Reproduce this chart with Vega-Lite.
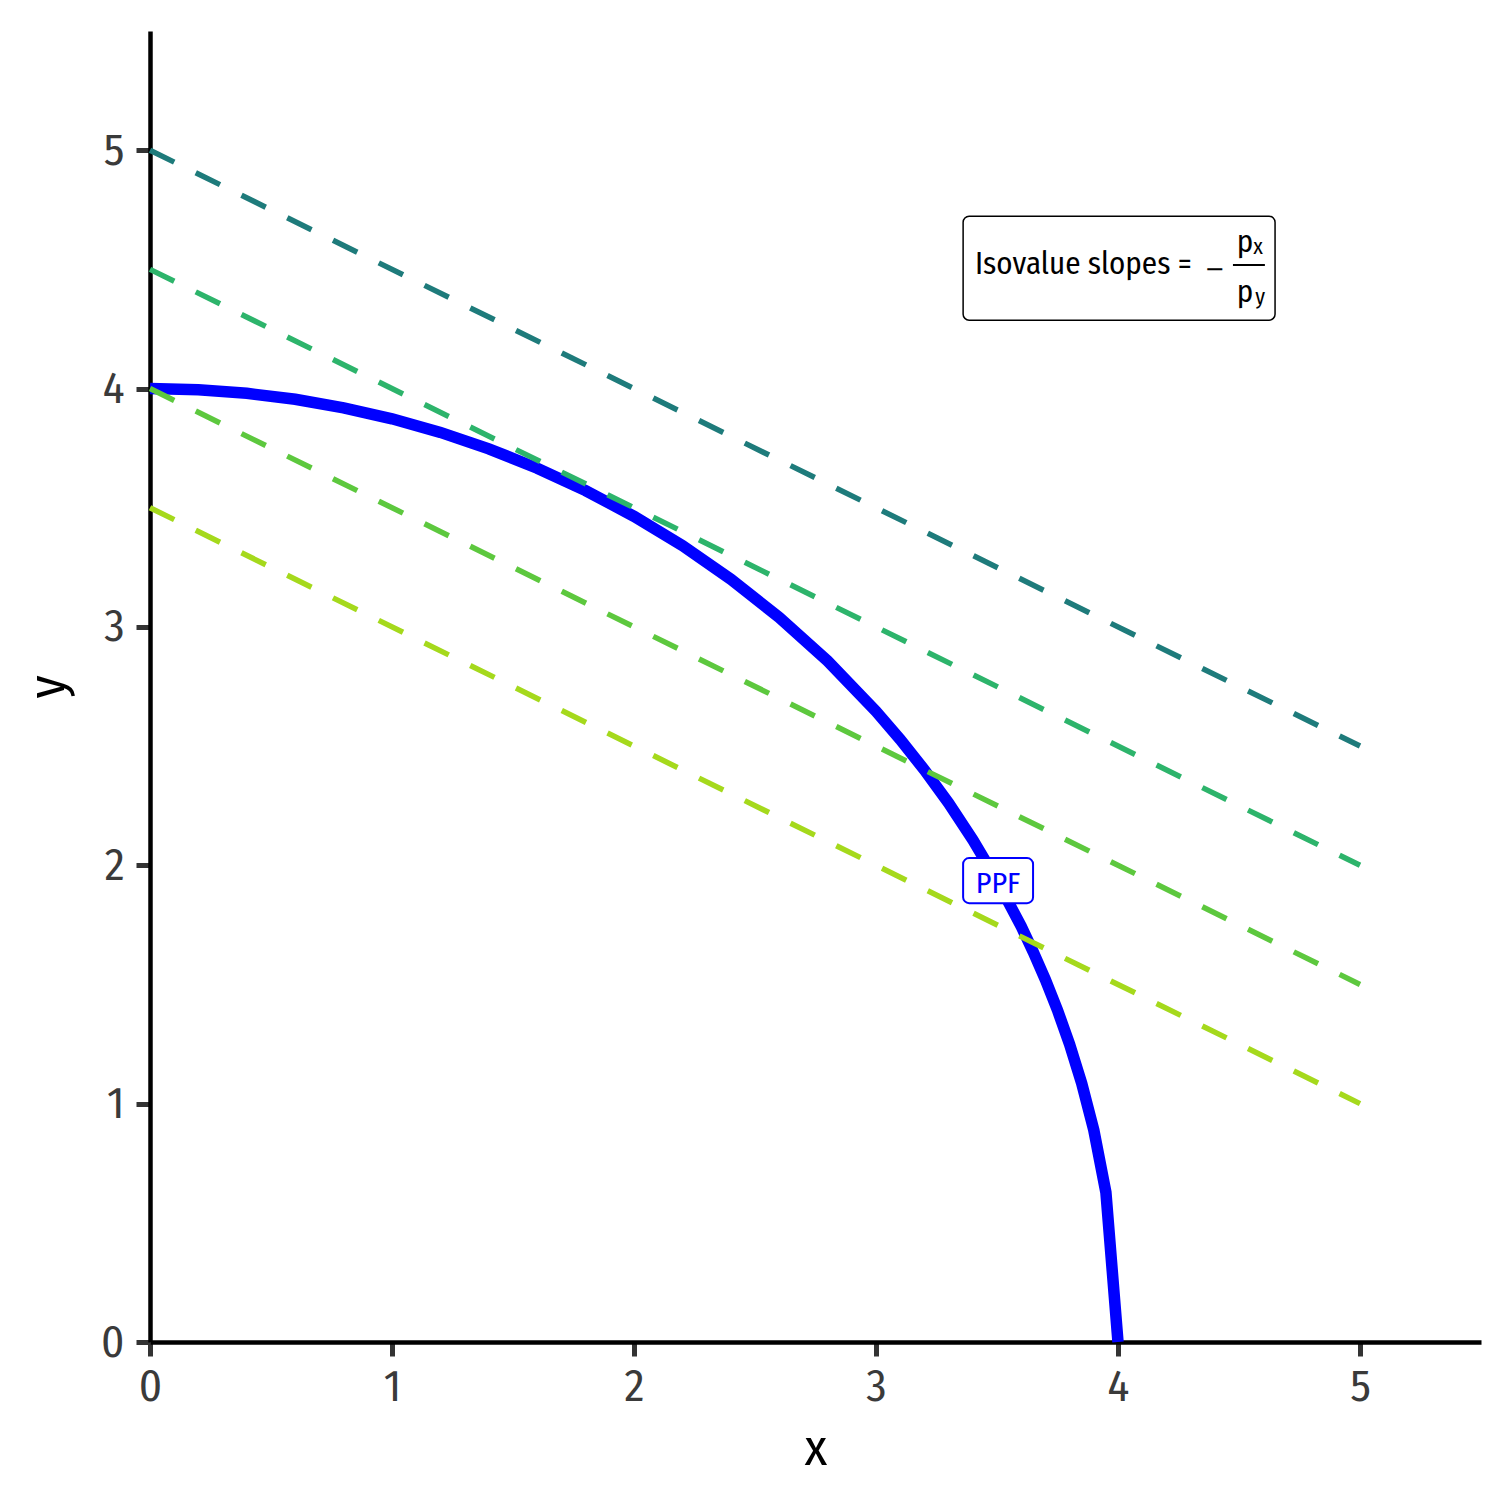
{
  "$schema": "https://vega.github.io/schema/vega-lite/v6.json",
  "width": 1331,
  "height": 1311,
  "autosize": {"type": "none"},
  "padding": {"left": 150, "top": 31, "right": 31, "bottom": 170},
  "background": "white",
  "config": {
    "view": {"stroke": null},
    "font": "Fira Sans Condensed, Liberation Sans Narrow, Roboto, sans-serif",
    "axis": {
      "grid": false,
      "labelFlush": false,
      "domainColor": "black",
      "domainWidth": 4.5,
      "tickColor": "#333333",
      "tickWidth": 5,
      "tickSize": 14,
      "labelFontSize": 45,
      "labelColor": "#3a3a3a",
      "labelFont": "Fira Sans Condensed, Liberation Sans Narrow, Roboto, sans-serif",
      "titleFont": "Fira Sans Condensed, Liberation Sans Narrow, Roboto, sans-serif",
      "titleFontSize": 52,
      "titleFontWeight": "normal",
      "titleColor": "black"
    }
  },
  "layer": [
    {
      "data": {"values": [
        {"x": 0, "y": 4}, {"x": 0.2, "y": 3.995}, {"x": 0.4, "y": 3.98}, {"x": 0.6, "y": 3.955},
        {"x": 0.8, "y": 3.919}, {"x": 1.0, "y": 3.873}, {"x": 1.2, "y": 3.816}, {"x": 1.4, "y": 3.747},
        {"x": 1.6, "y": 3.666}, {"x": 1.8, "y": 3.572}, {"x": 2.0, "y": 3.464}, {"x": 2.2, "y": 3.341},
        {"x": 2.4, "y": 3.2}, {"x": 2.6, "y": 3.04}, {"x": 2.8, "y": 2.857}, {"x": 3.0, "y": 2.646},
        {"x": 3.1, "y": 2.528}, {"x": 3.2, "y": 2.4}, {"x": 3.3, "y": 2.261}, {"x": 3.4, "y": 2.107},
        {"x": 3.5, "y": 1.936}, {"x": 3.6, "y": 1.744}, {"x": 3.65, "y": 1.636}, {"x": 3.7, "y": 1.52},
        {"x": 3.75, "y": 1.392}, {"x": 3.8, "y": 1.249}, {"x": 3.85, "y": 1.085}, {"x": 3.9, "y": 0.889},
        {"x": 3.95, "y": 0.628}, {"x": 4.0, "y": 0}
      ]},
      "mark": {"type": "line", "color": "#0000ff", "strokeWidth": 11.5, "strokeCap": "butt", "strokeJoin": "miter"},
      "encoding": {
        "x": {"field": "x", "type": "quantitative", "scale": {"domain": [0, 5.5], "nice": false},
              "axis": {"values": [0, 1, 2, 3, 4, 5], "format": "d", "title": "x", "labelPadding": 8, "titlePadding": 14}},
        "y": {"field": "y", "type": "quantitative", "scale": {"domain": [0, 5.5], "nice": false},
              "axis": {"values": [0, 1, 2, 3, 4, 5], "format": "d", "title": "y", "labelPadding": 12, "titlePadding": 26}},
        "order": {"field": "x", "type": "quantitative"}
      }
    },
    {
      "data": {"values": [
        {"line": "a", "x": 0, "y": 5}, {"line": "a", "x": 5, "y": 2.5},
        {"line": "b", "x": 0, "y": 4.5}, {"line": "b", "x": 5, "y": 2},
        {"line": "c", "x": 0, "y": 4}, {"line": "c", "x": 5, "y": 1.5},
        {"line": "d", "x": 0, "y": 3.5}, {"line": "d", "x": 5, "y": 1}
      ]},
      "mark": {"type": "line", "strokeWidth": 5.5, "strokeDash": [27, 24], "strokeCap": "butt"},
      "encoding": {
        "x": {"field": "x", "type": "quantitative"},
        "y": {"field": "y", "type": "quantitative"},
        "color": {"field": "line", "type": "nominal",
                  "scale": {"domain": ["a", "b", "c", "d"], "range": ["#1e7b7b", "#2db46b", "#5dc83e", "#a5d91c"]},
                  "legend": null}
      }
    },
    {
      "data": {"values": [{"x": 3.36, "x2": 4.649, "y": 4.723, "y2": 4.287}]},
      "mark": {"type": "rect", "fill": "white", "stroke": "black", "strokeWidth": 1.5, "cornerRadius": 6},
      "encoding": {
        "x": {"field": "x", "type": "quantitative"}, "x2": {"field": "x2"},
        "y": {"field": "y", "type": "quantitative"}, "y2": {"field": "y2"}
      }
    },
    {
      "data": {"values": [{"x": 3.409, "y": 4.48, "t": "Isovalue slopes ="}]},
      "mark": {"type": "text", "align": "left", "baseline": "alphabetic", "fontSize": 31, "color": "black"},
      "encoding": {"x": {"field": "x", "type": "quantitative"}, "y": {"field": "y", "type": "quantitative"}, "text": {"field": "t"}}
    },
    {
      "data": {"values": [{"x": 4.399, "y": 4.467, "t": "−"}]},
      "mark": {"type": "text", "align": "center", "baseline": "alphabetic", "fontSize": 24, "font": "DejaVu Sans", "color": "black"},
      "encoding": {"x": {"field": "x", "type": "quantitative"}, "y": {"field": "y", "type": "quantitative"}, "text": {"field": "t"}}
    },
    {
      "data": {"values": [{"x": 4.475, "x2": 4.607, "y": 4.518}]},
      "mark": {"type": "rule", "color": "black", "strokeWidth": 2},
      "encoding": {"x": {"field": "x", "type": "quantitative"}, "x2": {"field": "x2"}, "y": {"field": "y", "type": "quantitative"}}
    },
    {
      "data": {"values": [{"x": 4.525, "y": 4.572, "t": "p"}, {"x": 4.525, "y": 4.362, "t": "p"}]},
      "mark": {"type": "text", "align": "center", "baseline": "alphabetic", "fontSize": 31, "color": "black"},
      "encoding": {"x": {"field": "x", "type": "quantitative"}, "y": {"field": "y", "type": "quantitative"}, "text": {"field": "t"}}
    },
    {
      "data": {"values": [{"x": 4.579, "y": 4.566, "t": "x"}, {"x": 4.587, "y": 4.354, "t": "y"}]},
      "mark": {"type": "text", "align": "center", "baseline": "alphabetic", "fontSize": 22, "color": "black"},
      "encoding": {"x": {"field": "x", "type": "quantitative"}, "y": {"field": "y", "type": "quantitative"}, "text": {"field": "t"}}
    },
    {
      "data": {"values": [{"x": 3.36, "x2": 3.649, "y": 2.03, "y2": 1.841}]},
      "mark": {"type": "rect", "fill": "white", "stroke": "#0000ff", "strokeWidth": 2, "cornerRadius": 6},
      "encoding": {
        "x": {"field": "x", "type": "quantitative"}, "x2": {"field": "x2"},
        "y": {"field": "y", "type": "quantitative"}, "y2": {"field": "y2"}
      }
    },
    {
      "data": {"values": [{"x": 3.504, "y": 1.883, "t": "PPF"}]},
      "mark": {"type": "text", "align": "center", "baseline": "alphabetic", "fontSize": 30, "color": "#0000ff"},
      "encoding": {"x": {"field": "x", "type": "quantitative"}, "y": {"field": "y", "type": "quantitative"}, "text": {"field": "t"}}
    }
  ]
}
